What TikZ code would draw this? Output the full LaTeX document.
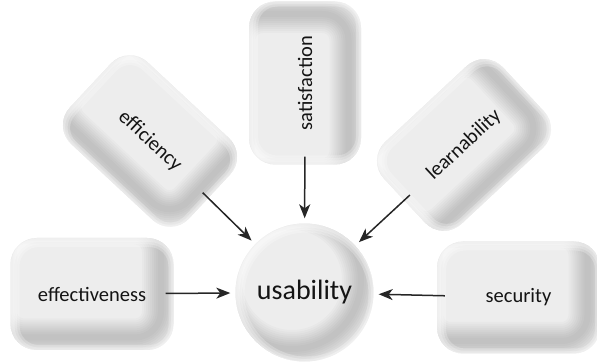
\documentclass[tikz,border=0pt]{standalone}
\usepackage{fontspec}
\setmainfont{Carlito}
\usetikzlibrary{arrows.meta,backgrounds}

\definecolor{pillowlight}{RGB}{237,237,237}

\begin{document}
\begin{tikzpicture}[x=10pt, y=10pt,
  every node/.style={font=\fontsize{20.5}{24}\selectfont, text=black!92},
  pad/.style={rectangle, minimum width=163pt, minimum height=112pt},
  hub/.style={circle, minimum size=138pt, font=\fontsize{28}{32}\selectfont},
  rim/.style={line width=#1, black, opacity=.02},
  link/.style={-{Stealth[length=14pt,width=11pt,inset=4pt]}, line width=1.5pt, draw=black!85, shorten <=-8pt, shorten >=5pt}]
\useasboundingbox (0,0) rectangle (59.7,36.4);

\node[hub] (usability) at (30.45,7.15) {usability};

\node[pad] (effectiveness) at (9.2,7.0) {effectiveness};
\node[pad] (security) at (51.85,6.65) {security};
\node[pad, rotate=90] (satisfaction) at (30.5,28.1) {satisfaction};
\node[pad, rotate=-43] (efficiency) at (15.0,22.3) {efficiency};
\node[pad, rotate=43] (learnability) at (46.4,21.9) {learnability};

\draw[link] (effectiveness) -- (usability);
\draw[link] (security) -- (usability);
\draw[link] (satisfaction) -- (usability);
\draw[link] (efficiency) -- (usability);
\draw[link] (learnability) -- (usability);

% cushions behind the labels, shadow on the lower right rim
\begin{scope}[on background layer]
  \foreach \n/\a in {effectiveness/0, security/0, satisfaction/90, efficiency/-43, learnability/43} {
    \begin{scope}[shift={(\n.center)}, rotate=\a, rounded corners=26pt]
      \fill[pillowlight] (-81.5pt,-56pt) rectangle (81.5pt,56pt);
      \clip (-81.5pt,-56pt) rectangle (81.5pt,56pt);
      \foreach \w in {38,34,30,26,22,18,14,10,6}
        \draw[rim=\w pt] (-94pt,-43.5pt) rectangle (69pt,68.5pt);
      \foreach \w in {14,9,4}
        \draw[line width=\w pt, white, opacity=.25] (-79.5pt,-58pt) rectangle (83.5pt,54pt);
    \end{scope}
  }
  \begin{scope}[shift={(usability.center)}]
    \fill[pillowlight] (0,0) circle[radius=69pt];
    \clip (0,0) circle[radius=69pt];
    \foreach \w in {38,34,30,26,22,18,14,10,6}
      \draw[rim=\w pt] (-12.5pt,12.5pt) circle[radius=69pt];
    \foreach \w in {14,9,4}
      \draw[line width=\w pt, white, opacity=.25] (2pt,-2pt) circle[radius=69pt];
  \end{scope}
\end{scope}
\end{tikzpicture}
\end{document}
